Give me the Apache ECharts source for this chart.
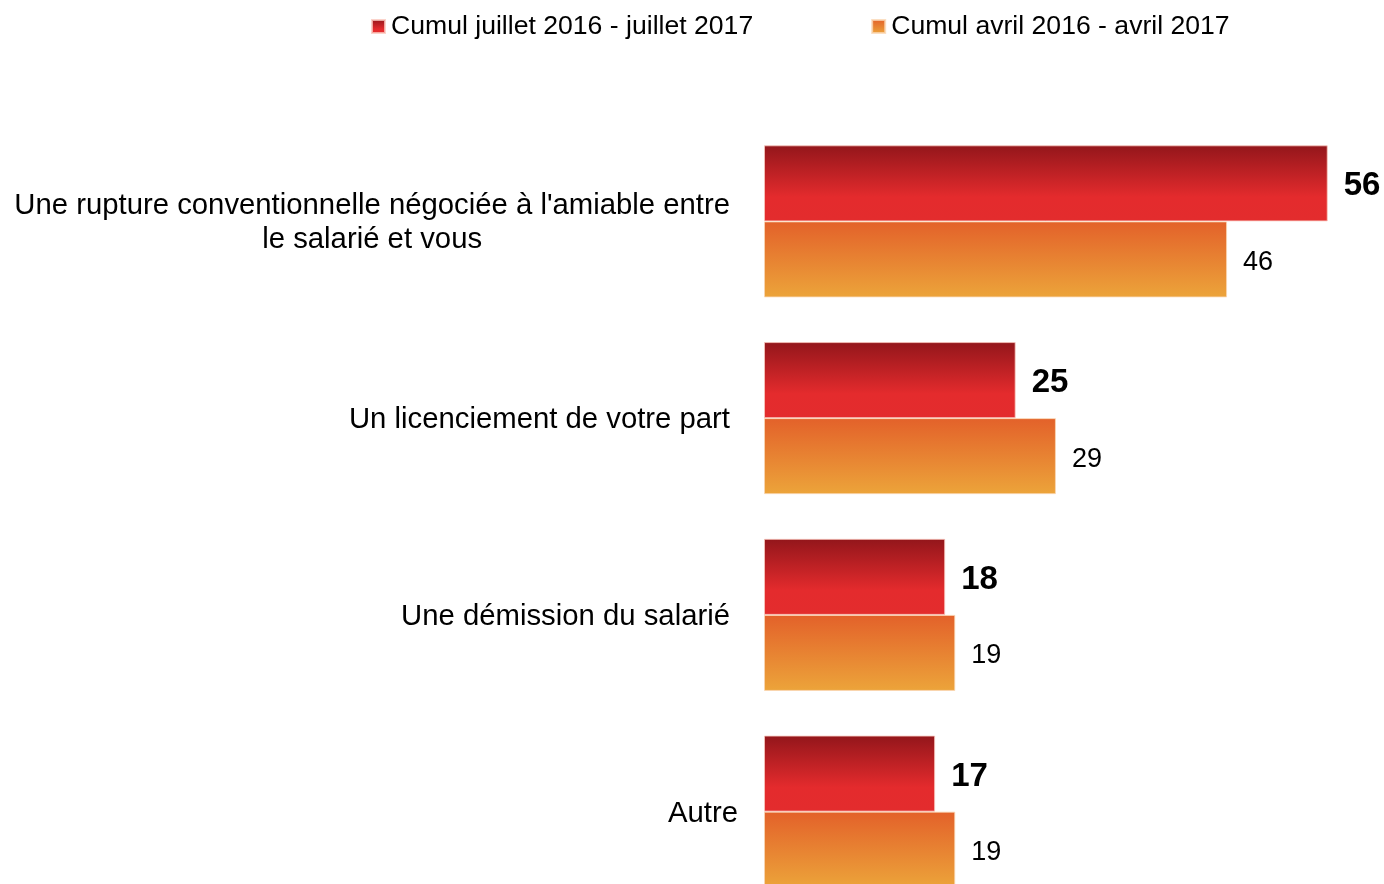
<!DOCTYPE html>
<html>
<head>
<meta charset="utf-8">
<script src="https://cdn.jsdelivr.net/npm/echarts@6/dist/echarts.min.js"></script>
<style>
  html, body { margin: 0; padding: 0; background: #fff; overflow: hidden; }
  #chart { width: 1384px; height: 920px; }
</style>
</head>
<body>
<div id="chart"></div>
<script>
const categories = [
    "Une rupture conventionnelle négociée à l'amiable entre\nle salarié et vous",
    'Un licenciement de votre part',
    'Une démission du salarié',
    'Autre'
];
const seriesNames = ['Cumul juillet 2016 - juillet 2017', 'Cumul avril 2016 - avril 2017'];
const juillet2017 = [56, 25, 18, 17];
const avril2017 = [46, 29, 19, 19];

const redGradient = new echarts.graphic.LinearGradient(0, 0, 0, 1, [
    { offset: 0, color: '#93161b' },
    { offset: 0.68, color: '#e42b2d' },
    { offset: 1, color: '#e32c2d' }
]);
const orangeGradient = new echarts.graphic.LinearGradient(0, 0, 0, 1, [
    { offset: 0, color: '#e3612a' },
    { offset: 1, color: '#eca43a' }
]);

const chart = echarts.init(document.getElementById('chart'));

chart.setOption({
    animation: false,
    textStyle: { fontFamily: 'Liberation Sans, Arial, sans-serif' },
    legend: {
        left: 366,
        top: 8,
        icon: 'rect',
        itemWidth: 13,
        itemHeight: 13,
        itemGap: 118,
        textStyle: { fontSize: 26.6, color: '#000', padding: [0, 0, 0, 1] },
        data: seriesNames
    },
    grid: {
        left: 764,
        top: 123,
        width: 604,
        height: 787
    },
    xAxis: {
        type: 'value',
        min: 0,
        max: 60,
        show: false
    },
    yAxis: {
        type: 'category',
        inverse: true,
        data: categories,
        axisLine: { show: false },
        axisTick: { show: false },
        axisLabel: {
            margin: 26,
            formatter: v => {
                const style = v === 'Autre' ? 'b' : 'a';
                return v.split('\n').map(s => '{' + style + '|' + s + '}').join('\n');
            },
            rich: {
                a: { fontSize: 29.3, color: '#000', align: 'center', lineHeight: 34, padding: [4, 8, 0, 0] },
                b: { fontSize: 29.3, color: '#000', align: 'center', lineHeight: 34, padding: [4, 0, 0, 0] }
            }
        }
    },
    series: [
        {
            name: seriesNames[0],
            type: 'bar',
            data: juillet2017,
            barGap: '0%',
            barCategoryGap: '22.7%',
            itemStyle: { color: redGradient, borderColor: 'rgba(250,200,190,0.8)', borderWidth: 1 },
            label: {
                show: true,
                position: 'right',
                distance: 16,
                offset: [0, 3],
                fontSize: 33,
                fontWeight: 'bold',
                color: '#000'
            }
        },
        {
            name: seriesNames[1],
            type: 'bar',
            data: avril2017,
            barGap: '0%',
            barCategoryGap: '22.7%',
            itemStyle: { color: orangeGradient, borderColor: 'rgba(250,215,180,0.8)', borderWidth: 1 },
            label: {
                show: true,
                position: 'right',
                distance: 16,
                offset: [0, 3],
                fontSize: 27,
                color: '#000'
            }
        }
    ]
});

window.addEventListener('resize', () => chart.resize());
</script>
</body>
</html>
